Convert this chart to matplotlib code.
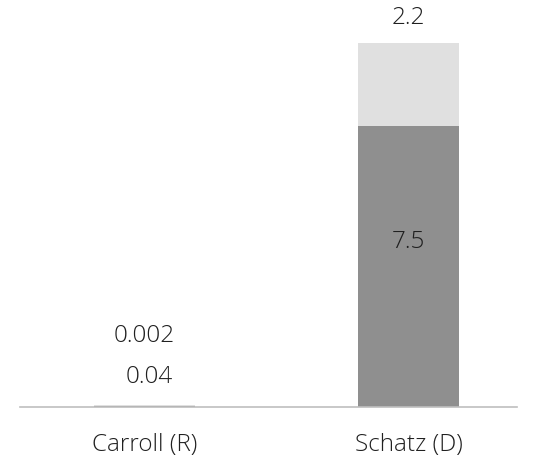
import matplotlib.pyplot as plt

# Data
candidates = ["Carroll (R)", "Schatz (D)"]
base_vals = [0.04, 7.5]
top_vals = [0.002, 2.2]
base_labels = ["0.04", "7.5"]
top_labels = ["0.002", "2.2"]

dark = "#8f8f8f"
light = "#e0e0e0"
txt = "#202020"
fs = 17.5

plt.rcParams['font.family'] = ['Open Sans', 'DejaVu Sans']

fig = plt.figure(figsize=(5.43, 4.61), dpi=100)
ax = fig.add_axes([0.037, 0.117, 0.915, 0.883])

x = list(range(len(candidates)))
ax.bar(x, base_vals, width=0.38, color=dark)
ax.bar(x, top_vals, width=0.38, bottom=base_vals, color=light)

ax.set_xlim(-0.47, 1.41)
ax.set_ylim(0, 10.85)

# Labels: Carroll's segments are too thin, so labels sit stacked above the bar
ax.text(x[0] + 0.02, base_vals[0] + 0.75, base_labels[0], ha='center', va='center',
        fontsize=fs, color=txt, fontweight='light')
ax.text(x[0], base_vals[0] + top_vals[0] + 1.85, top_labels[0], ha='center', va='center',
        fontsize=fs, color=txt, fontweight='light')
ax.text(x[1], base_vals[1] * 0.585, base_labels[1], ha='center', va='center',
        fontsize=fs, color=txt, fontweight='light')
ax.text(x[1], base_vals[1] + top_vals[1] + 0.67, top_labels[1], ha='center', va='center',
        fontsize=fs, color=txt, fontweight='light')

for s in ['top', 'right', 'left']:
    ax.spines[s].set_visible(False)
ax.spines['bottom'].set_color('#bfbfbf')
ax.spines['bottom'].set_linewidth(1.2)
ax.set_yticks([])
ax.set_xticks(x)
ax.set_xticklabels(candidates, fontsize=fs, color=txt, fontweight='light')
ax.tick_params(axis='x', length=0, pad=19)

fig.savefig("out.png", dpi=100)
